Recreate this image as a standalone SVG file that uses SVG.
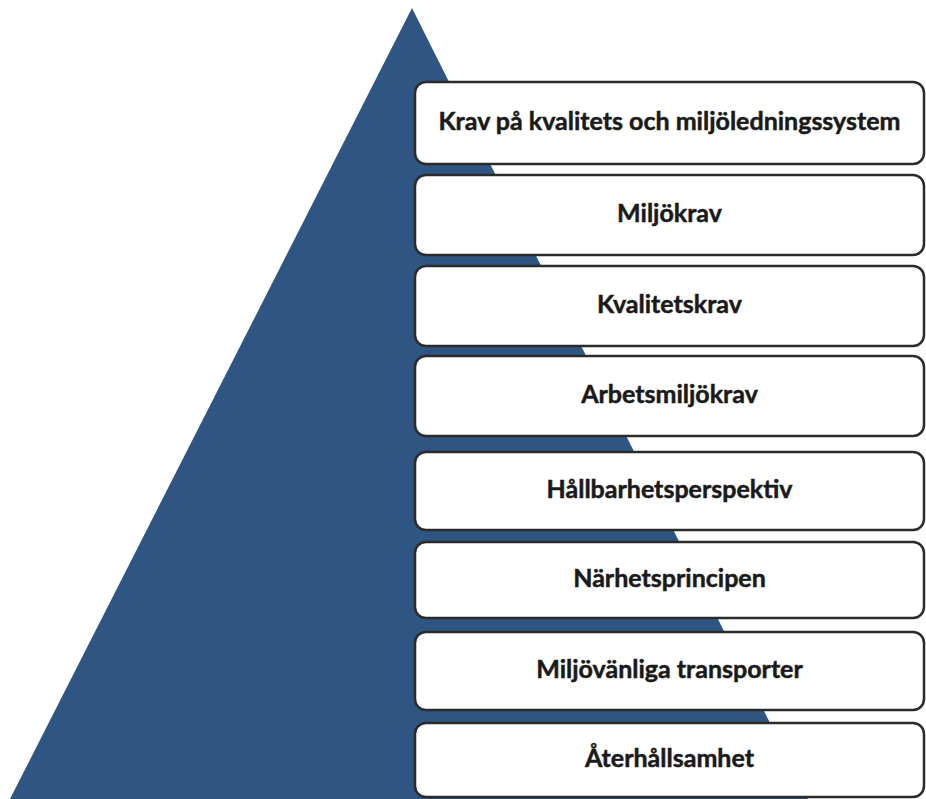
<svg xmlns="http://www.w3.org/2000/svg" width="926" height="799" viewBox="0 0 926 799">
<style>
.box{fill:#ffffff;stroke:#2b2b2b;stroke-width:2.5}
.lbl{font-family:Lato,"Open Sans","Liberation Sans",sans-serif;font-weight:bold;font-size:25px;fill:#1a1a1a;stroke:#1a1a1a;stroke-width:0.5;text-anchor:middle}
</style>
<rect x="0" y="0" width="926" height="799" fill="#ffffff"/>
<polygon id="pyramid" points="412,8 10,799 808,799" fill="#2f5582"/>
<g id="n1"><rect class="box" x="415" y="82" width="509" height="82" rx="11"/><text class="lbl" x="669.5" y="130">Krav på kvalitets och miljöledningssystem</text></g>
<g id="n2"><rect class="box" x="415" y="175" width="509" height="80" rx="11"/><text class="lbl" x="669.5" y="222">Miljökrav</text></g>
<g id="n3"><rect class="box" x="415" y="266" width="509" height="80" rx="11"/><text class="lbl" x="669.5" y="313">Kvalitetskrav</text></g>
<g id="n4"><rect class="box" x="415" y="356" width="509" height="80" rx="11"/><text class="lbl" x="669.5" y="403">Arbetsmiljökrav</text></g>
<g id="n5"><rect class="box" x="415" y="452" width="509" height="78" rx="11"/><text class="lbl" x="669.5" y="498">Hållbarhetsperspektiv</text></g>
<g id="n6"><rect class="box" x="415" y="542" width="509" height="76" rx="11"/><text class="lbl" x="669.5" y="587">Närhetsprincipen</text></g>
<g id="n7"><rect class="box" x="415" y="632" width="509" height="78" rx="11"/><text class="lbl" x="669.5" y="678">Miljövänliga transporter</text></g>
<g id="n8"><rect class="box" x="415" y="723" width="509" height="74" rx="11"/><text class="lbl" x="669.5" y="767">Återhållsamhet</text></g>
<g id="connectors"></g>
</svg>
